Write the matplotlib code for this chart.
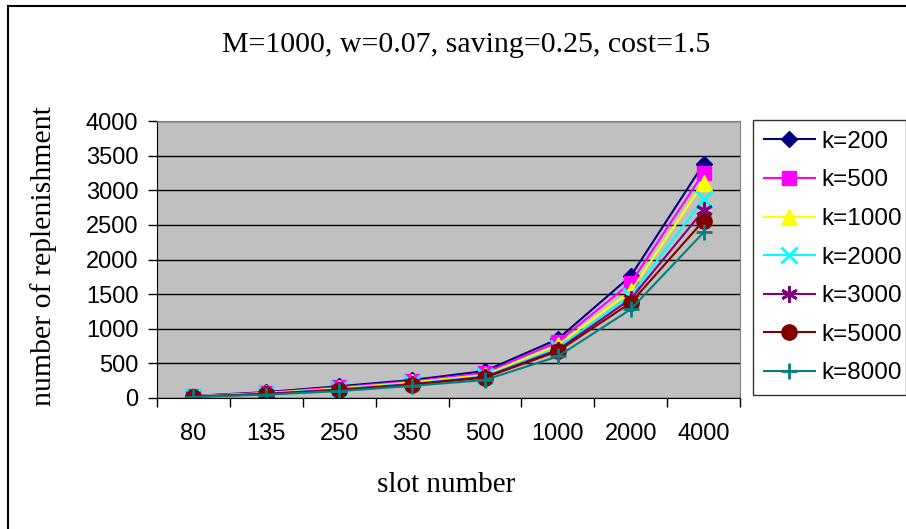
import numpy as np
import matplotlib.pyplot as plt
from matplotlib.patches import Rectangle

# slot numbers on the category axis
slots = ['80', '135', '250', '350', '500', '1000', '2000', '4000']

# replenishment counts for each k
k200 = [30, 85, 170, 260, 390, 850, 1760, 3380]
k500 = [27, 76, 155, 240, 360, 810, 1660, 3250]
k1000 = [25, 70, 140, 225, 335, 765, 1540, 3110]
k2000 = [23, 64, 130, 210, 315, 720, 1480, 2870]
k3000 = [21, 60, 122, 200, 305, 695, 1430, 2710]
k5000 = [20, 56, 115, 192, 295, 675, 1375, 2560]
k8000 = [18, 48, 100, 175, 260, 600, 1280, 2390]

labels = ['k=200', 'k=500', 'k=1000', 'k=2000', 'k=3000', 'k=5000', 'k=8000']
colours = ['#000080', '#FF00FF', '#FFFF00', '#00FFFF', '#800080', '#800000', '#008080']
markers = ['D', 's', '^', 'x', (6, 2, 0), 'o', '+']
msizes = [8, 10, 11, 11, 12, 11, 12]

fig = plt.figure(figsize=(9.06, 5.29), dpi=100)
W, H = 906, 529

# chart border
fig.patches.append(Rectangle((8 / W, -0.1), 1.2, 1 - 6 / H + 0.1, transform=fig.transFigure,
                             fill=False, edgecolor='black', linewidth=1.5))

ax = fig.add_axes([157 / W, 1 - 398 / H, (740 - 157) / W, (398 - 121) / H])
ax.set_facecolor('#C0C0C0')

x = np.arange(len(slots))
series = [k200, k500, k1000, k2000, k3000, k5000, k8000]
for vals, lab, c, m, ms in zip(series, labels, colours, markers, msizes):
    mew = 1 if m in ('D', 's', '^', 'o') else 2
    ax.plot(x, vals, color=c, marker=m, markersize=ms, linewidth=1.5,
            markeredgecolor=c, markeredgewidth=mew, label=lab)

ax.set_xlim(-0.5, len(slots) - 0.5)
ax.set_ylim(0, 4000)
ax.set_yticks(np.arange(0, 4001, 500))
ax.yaxis.grid(True, color='black', linewidth=1)
ax.set_axisbelow(True)

ax.set_xticks(x)
ax.set_xticklabels(slots)
ax.set_xticks(np.arange(-0.5, len(slots)), minor=True)
ax.tick_params(axis='x', which='major', length=0, pad=18, labelsize=17)
ax.tick_params(axis='x', which='minor', length=6.5, direction='out', width=1)
ax.tick_params(axis='y', length=6.5, direction='out', width=1, labelsize=17, pad=7)
for t in ax.get_xticklabels() + ax.get_yticklabels():
    t.set_family('Liberation Sans')

for s in ('top', 'right'):
    ax.spines[s].set_color('#808080')
for s in ('left', 'bottom'):
    ax.spines[s].set_color('black')

fig.text(466 / W, 1 - 45 / H, 'M=1000, w=0.07, saving=0.25, cost=1.5',
         ha='center', va='center', fontsize=21.5, family='Liberation Serif')
fig.text(446 / W, 1 - 485 / H, 'slot number', ha='center', va='center',
         fontsize=21, family='Liberation Serif')
fig.text(44 / W, 1 - 256 / H, 'number of replenishment', ha='center', va='center',
         rotation=90, fontsize=21.5, family='Liberation Serif')

leg = ax.legend(loc='upper left', bbox_to_anchor=(753 / W, 1 - 398 / H, (906 - 753) / W, (398 - 120) / H),
                bbox_transform=fig.transFigure, mode='expand', frameon=True, fancybox=False,
                prop={'family': 'Liberation Sans', 'size': 17.5}, handlelength=2.1,
                handletextpad=0.25, labelspacing=0.68, borderpad=0.45, borderaxespad=0)
leg.get_frame().set_edgecolor('black')
leg.get_frame().set_linewidth(1)

fig.savefig('out.png', dpi=100)
